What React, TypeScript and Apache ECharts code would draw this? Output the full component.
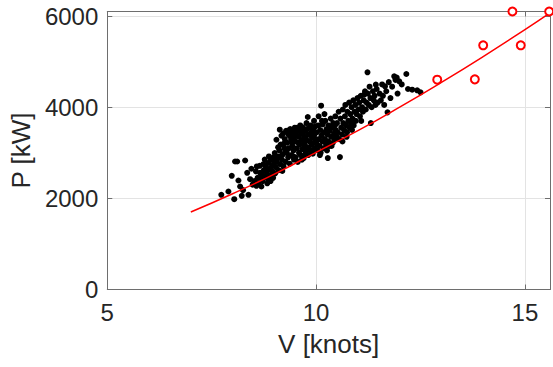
import React, { useEffect, useRef } from "react";
import * as echarts from "echarts";

const xTicks = [5, 10, 15];
const yTicks = [0, 2000, 4000, 6000];

const measured: number[][] = [
  [7.73, 2077], [8.04, 1982], [8.22, 2055], [8.38, 2077], [7.98, 2495], [8.14, 2392], [8.06, 2809], [8.11, 2809],
  [8.30, 2831], [8.25, 2180], [8.42, 2420], [8.48, 2300], [8.35, 2560], [7.9, 2150], [8.18, 2260], [8.45, 2650],
  [8.57, 2275], [8.69, 2260], [8.56, 2590], [8.65, 2714], [8.52, 2380], [8.6, 2450], [8.62, 2330], [8.7, 2520],
  [8.72, 2380], [8.75, 2620], [8.78, 2480], [8.8, 2700], [8.82, 2560], [8.85, 2420], [8.86, 2780], [8.88, 2640],
  [8.9, 2500], [8.92, 2850], [8.94, 2700], [8.95, 2590], [8.97, 2450], [8.98, 2900], [8.99, 2760], [8.66, 2560],
  [8.74, 2750], [8.83, 2330], [8.91, 2380], [8.77, 2850], [8.58, 2700], [8.87, 2920], [8.68, 2440], [8.81, 2620],
  [9.05, 3286], [9.01, 2993], [9.13, 3506], [9.17, 3374], [9.02, 2550], [9.04, 2680], [9.06, 2800], [9.08, 2900],
  [9.1, 2620], [9.12, 3050], [9.14, 2750], [9.15, 3180], [9.18, 2850], [9.2, 2960], [9.21, 3420], [9.22, 2700],
  [9.24, 3100], [9.25, 3300], [9.27, 2800], [9.28, 3480], [9.3, 3000], [9.31, 3220], [9.33, 2900], [9.34, 3400],
  [9.35, 3100], [9.37, 2760], [9.38, 3520], [9.4, 3300], [9.41, 2950], [9.43, 3150], [9.44, 3450], [9.46, 3050],
  [9.47, 2850], [9.48, 3350], [9.49, 3550], [9.09, 3120], [9.19, 2600], [9.26, 3020], [9.36, 3380], [9.42, 3230],
  [9.03, 2820], [9.11, 2920], [9.23, 3200], [9.32, 3480], [9.45, 2920],
  [9.8, 3785], [9.5, 3250], [9.51, 2900], [9.52, 3450], [9.54, 3100], [9.55, 3550], [9.56, 2800], [9.58, 3350],
  [9.59, 3000], [9.6, 3500], [9.61, 3180], [9.63, 2950], [9.64, 3420], [9.65, 3280], [9.67, 3080], [9.68, 3560],
  [9.7, 2880], [9.71, 3360], [9.72, 3200], [9.74, 3480], [9.75, 3020], [9.76, 3300], [9.78, 3520], [9.79, 3120],
  [9.81, 2950], [9.82, 3400], [9.84, 3250], [9.85, 3560], [9.86, 3050], [9.88, 3450], [9.89, 3180], [9.9, 3330],
  [9.92, 2980], [9.93, 3500], [9.94, 3220], [9.96, 3400], [9.97, 3100], [9.98, 3580], [9.99, 3300], [9.57, 3220],
  [9.62, 3600], [9.66, 2850], [9.69, 3450], [9.73, 3150], [9.77, 3650], [9.83, 3100], [9.87, 3600], [9.91, 3050],
  [9.95, 3700], [9.53, 3380], [9.74, 2960],
  [10.12, 4033], [10.57, 2905], [10.28, 2884], [10.01, 3200], [10.02, 3450], [10.04, 3050], [10.05, 3600], [10.07, 3300],
  [10.08, 3150], [10.1, 3500], [10.11, 3000], [10.13, 3380], [10.15, 3250], [10.16, 3620], [10.18, 3100], [10.19, 3450],
  [10.21, 3300], [10.22, 3700], [10.24, 3180], [10.25, 3520], [10.27, 3400], [10.29, 3250], [10.3, 3600], [10.32, 3150],
  [10.33, 3480], [10.35, 3750], [10.36, 3350], [10.38, 3550], [10.4, 3220], [10.41, 3650], [10.43, 3420], [10.44, 3300],
  [10.46, 3800], [10.47, 3500], [10.49, 3350], [10.06, 3800], [10.2, 3850], [10.26, 3050], [10.37, 3150], [10.45, 3600],
  [10.14, 3700], [10.09, 2950],
  [10.5, 3650], [10.52, 3450], [10.54, 3900], [10.55, 3300], [10.58, 3750], [10.6, 3550], [10.62, 3400], [10.64, 3950],
  [10.65, 3650], [10.67, 3500], [10.69, 3800], [10.7, 4050], [10.72, 3600], [10.74, 3450], [10.75, 3900], [10.77, 3700],
  [10.79, 4100], [10.8, 3550], [10.82, 3850], [10.84, 3650], [10.85, 4000], [10.87, 3750], [10.89, 4150], [10.9, 3600],
  [10.92, 3900], [10.94, 4050], [10.95, 3700], [10.97, 3850], [10.99, 4200], [10.63, 3250], [10.73, 3350], [10.86, 3500],
  [11.23, 4766], [11.31, 3652], [11.43, 4495], [11.15, 4275], [11.01, 3950], [11.03, 4100], [11.05, 3800], [11.07, 4250],
  [11.1, 4000], [11.12, 3900], [11.14, 4150], [11.17, 4350], [11.19, 3950], [11.21, 4100], [11.24, 4300], [11.26, 4050],
  [11.28, 4450], [11.3, 4200], [11.33, 4000], [11.36, 4350], [11.38, 4150], [11.4, 4250], [11.42, 4050], [11.45, 4400],
  [11.47, 4100], [11.08, 3700],
  [11.87, 4678], [12.16, 4729], [11.99, 4568], [12.3, 4385], [12.42, 4370], [12.5, 4326], [11.71, 3887], [11.65, 4458],
  [11.52, 4300], [11.55, 4150], [11.58, 4500], [11.6, 4250], [11.63, 4050], [11.68, 4350], [11.74, 4550], [11.78, 4200],
  [11.82, 4450], [11.9, 4600], [11.95, 4300], [12.05, 4500], [11.93, 4650], [12.2, 4400],
];

const extraPoints: number[][] = [
  [12.9, 4604], [13.8, 4611], [14.0, 5358], [14.9, 5358], [14.7, 6100], [15.58, 6100],
];

const fitX = [7, 8, 9, 10, 11, 12, 13, 14, 15, 15.6];
const fitY = [1700, 2101, 2533, 3010, 3485, 4001, 4544, 5111, 5702, 6070];

const FONT = "'Liberation Sans', Arial, Helvetica, sans-serif";
const TEXT = "#262626";
const AXIS = "#6e6e6e";
const GRIDC = "#e3e3e3";

export default function App() {
  const ref = useRef<HTMLDivElement>(null);
  useEffect(() => {
    if (!ref.current) return;
    const chart = echarts.init(ref.current, undefined, { renderer: "svg" });
    const xFmt = (v: number) => (xTicks.includes(Math.round(v * 1000) / 1000) ? String(v) : "");
    const yFmt = (v: number) => (yTicks.includes(Math.round(v)) ? String(v) : "");
    chart.setOption({
      animation: false,
      backgroundColor: "#ffffff",
      grid: { left: 106.5, right: 1.5, top: 11.5, bottom: 77.5, show: false },
      xAxis: [
        {
          type: "value", min: 5, max: 15.6, interval: 5,
          name: "V [knots]", nameLocation: "middle", nameGap: 41,
          nameTextStyle: { fontFamily: FONT, fontSize: 26, color: TEXT },
          axisLine: { show: true, onZero: false, lineStyle: { color: AXIS, width: 1 } },
          axisTick: { show: true, inside: true, length: 5, lineStyle: { color: AXIS } },
          axisLabel: { fontFamily: FONT, fontSize: 24, color: TEXT, margin: 11, formatter: xFmt },
          splitLine: { show: true, lineStyle: { color: GRIDC, width: 1 } },
        },
        {
          type: "value", position: "top", min: 5, max: 15.6, interval: 5,
          axisLine: { show: true, onZero: false, lineStyle: { color: AXIS, width: 1 } },
          axisTick: { show: true, inside: true, length: 5, lineStyle: { color: AXIS } },
          axisLabel: { show: false },
          splitLine: { show: false },
        },
      ],
      yAxis: [
        {
          type: "value", min: 0, max: 6100, interval: 2000,
          name: "P [kW]", nameLocation: "middle", nameGap: 70, nameRotate: 90,
          nameTextStyle: { fontFamily: FONT, fontSize: 26, color: TEXT },
          axisLine: { show: true, onZero: false, lineStyle: { color: AXIS, width: 1 } },
          axisTick: { show: true, inside: true, length: 5, lineStyle: { color: AXIS } },
          axisLabel: { fontFamily: FONT, fontSize: 24, color: TEXT, margin: 9, formatter: yFmt },
          splitLine: { show: true, lineStyle: { color: GRIDC, width: 1 } },
        },
        {
          type: "value", position: "right", min: 0, max: 6100, interval: 2000,
          axisLine: { show: true, onZero: false, lineStyle: { color: AXIS, width: 1 } },
          axisTick: { show: true, inside: true, length: 5, lineStyle: { color: AXIS } },
          axisLabel: { show: false },
          splitLine: { show: false },
        },
      ],
      series: [
        {
          type: "scatter", data: measured, symbol: "circle", symbolSize: 6,
          itemStyle: { color: "#000000", opacity: 1 }, silent: true,
        },
        {
          type: "line", data: fitX.map((x, i) => [x, fitY[i]]), symbol: "none", smooth: true,
          lineStyle: { color: "#ff0000", width: 1.5 }, silent: true, z: 3,
        },
        {
          type: "scatter", data: extraPoints, symbol: "emptyCircle", symbolSize: 8,
          itemStyle: { color: "#ff0000", borderColor: "#ff0000", borderWidth: 1.5, opacity: 1 }, silent: true, z: 4,
        },
      ],
    });
    return () => chart.dispose();
  }, []);
  return (
    <div
      ref={ref}
      style={{ position: "fixed", left: 0, top: 0, width: 553, height: 367, background: "#fff" }}
    />
  );
}
